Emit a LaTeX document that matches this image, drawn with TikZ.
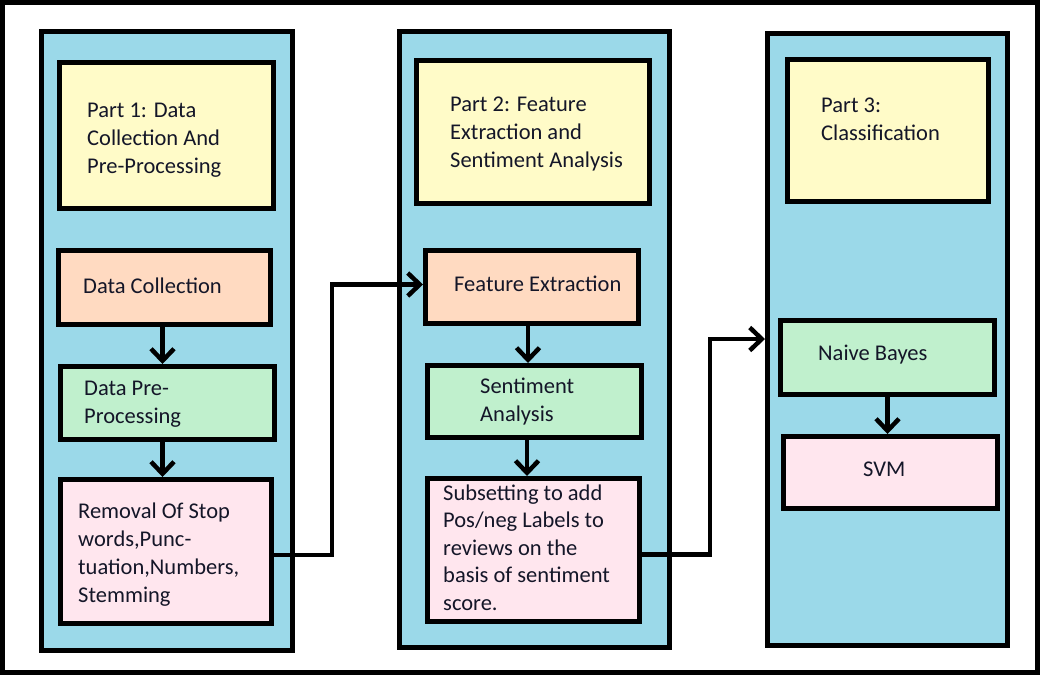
\documentclass[tikz,border=0pt]{standalone}
\usepackage{fontspec}
\setmainfont{Carlito}
\usetikzlibrary{arrows.meta}
\definecolor{panelblue}{RGB}{155,217,233}
\definecolor{headyellow}{RGB}{255,251,200}
\definecolor{steppeach}{RGB}{255,218,193}
\definecolor{stepgreen}{RGB}{192,240,205}
\definecolor{steppink}{RGB}{255,230,238}
\definecolor{inkdark}{RGB}{20,22,40}
\tikzset{
  panel/.style={draw=black, line width=5pt, fill=panelblue, rectangle, inner sep=0pt},
  stepbox/.style={draw=black, line width=5pt, rectangle, inner sep=0pt},
  % multi-line labels are anchored on the baseline of their last line
  label/.style={anchor=base west, align=left, inner sep=0pt, text=inkdark,
    font=\fontsize{22.5}{28}\selectfont},
  link/.style={draw=black, line width=4.5pt},
  arr/.style={link, -{Straight Barb[length=12pt,width=23pt]}},
}
\begin{document}
\begin{tikzpicture}[x=1pt,y=-1pt]
\useasboundingbox (0,0) rectangle (1040,675);
% outer frame
\draw[line width=4.5pt] (2.5,2.5) rectangle (1037.5,672.5);

% three column panels
\node[panel, minimum width=251pt, minimum height=618.5pt] (c1) at (167,340.75) {};
\node[panel, minimum width=270.5pt, minimum height=616.5pt] (c2) at (534.25,339.25) {};
\node[panel, minimum width=240pt, minimum height=612pt] (c3) at (887.5,339.5) {};

% part headings
\node[stepbox, fill=headyellow, minimum width=214pt, minimum height=145.5pt] (h1) at (166.5,135.25) {};
\node[stepbox, fill=headyellow, minimum width=233pt, minimum height=143pt] (h2) at (533,132) {};
\node[stepbox, fill=headyellow, minimum width=201pt, minimum height=142pt] (h3) at (888,130.5) {};

% part 1 steps
\node[stepbox, fill=steppeach, minimum width=212pt, minimum height=74pt] (dc) at (164.5,287.5) {};
\node[stepbox, fill=stepgreen, minimum width=214pt, minimum height=73pt] (dp) at (167.5,403) {};
\node[stepbox, fill=steppink, minimum width=211pt, minimum height=144pt] (rm) at (166,551.5) {};

% part 2 steps
\node[stepbox, fill=steppeach, minimum width=213pt, minimum height=73pt] (fe) at (532,287) {};
\node[stepbox, fill=stepgreen, minimum width=214pt, minimum height=72pt] (sa) at (534.5,401.5) {};
\node[stepbox, fill=steppink, minimum width=212pt, minimum height=143pt] (sub) at (533.5,550) {};

% part 3 steps
\node[stepbox, fill=stepgreen, minimum width=214pt, minimum height=74pt] (nb) at (887.5,357.5) {};
\node[stepbox, fill=steppink, minimum width=214pt, minimum height=72pt] (svm) at (890.5,472.5) {};

% texts
\node[label] (t1) at (87,173) {Part 1: Data\\Collection And\\Pre-Processing};
\node[label] (t2) at (450,167) {Part 2: Feature\\Extraction and\\Sentiment Analysis};
\node[label] (t3) at (821,140) {Part 3:\\Classification};
\node[label] (tdc) at (83,293) {Data Collection};
\node[label] (tdp) at (84,423) {Data Pre-\\Processing};
\node[label] (trm) at (78,602) {Removal Of Stop\\words,Punc-\\tuation,Numbers,\\Stemming};
\node[label] (tfe) at (454,291) {Feature Extraction};
\node[label] (tsa) at (480,421) {Sentiment\\Analysis};
\node[label, font=\fontsize{22.5}{27.5}\selectfont] (tsub) at (443,610)
  {Subsetting to add\\Pos/neg Labels to\\reviews on the\\basis of sentiment\\score.};
\node[label] (tnb) at (818,360) {Naive Bayes};
\node[label] (tsvm) at (863,476) {SVM};

% arrows within the panels
\draw[arr] ([xshift=-2pt]dc.south) -- ([xshift=-2pt]dc.south |- dp.north);
\draw[arr] ([xshift=-5pt]dp.south) -- ([xshift=-5pt]dp.south |- rm.north);
\draw[arr] ([xshift=-4pt]fe.south) -- ([xshift=-4pt]fe.south |- sa.north);
\draw[arr] ([xshift=-7.5pt]sa.south) -- ([xshift=-7.5pt]sa.south |- sub.north);
\draw[arr] (nb.south) -- (nb.south |- svm.north);

% links between the panels
\draw[arr] ([yshift=-3.5pt]rm.east) -| (332,284.5) -- ([yshift=2.5pt]fe.west);
\draw[arr] ([yshift=-4.5pt]sub.east) -| (710,339) -- ([yshift=18.5pt]nb.west -| c3.west);
\end{tikzpicture}
\end{document}
